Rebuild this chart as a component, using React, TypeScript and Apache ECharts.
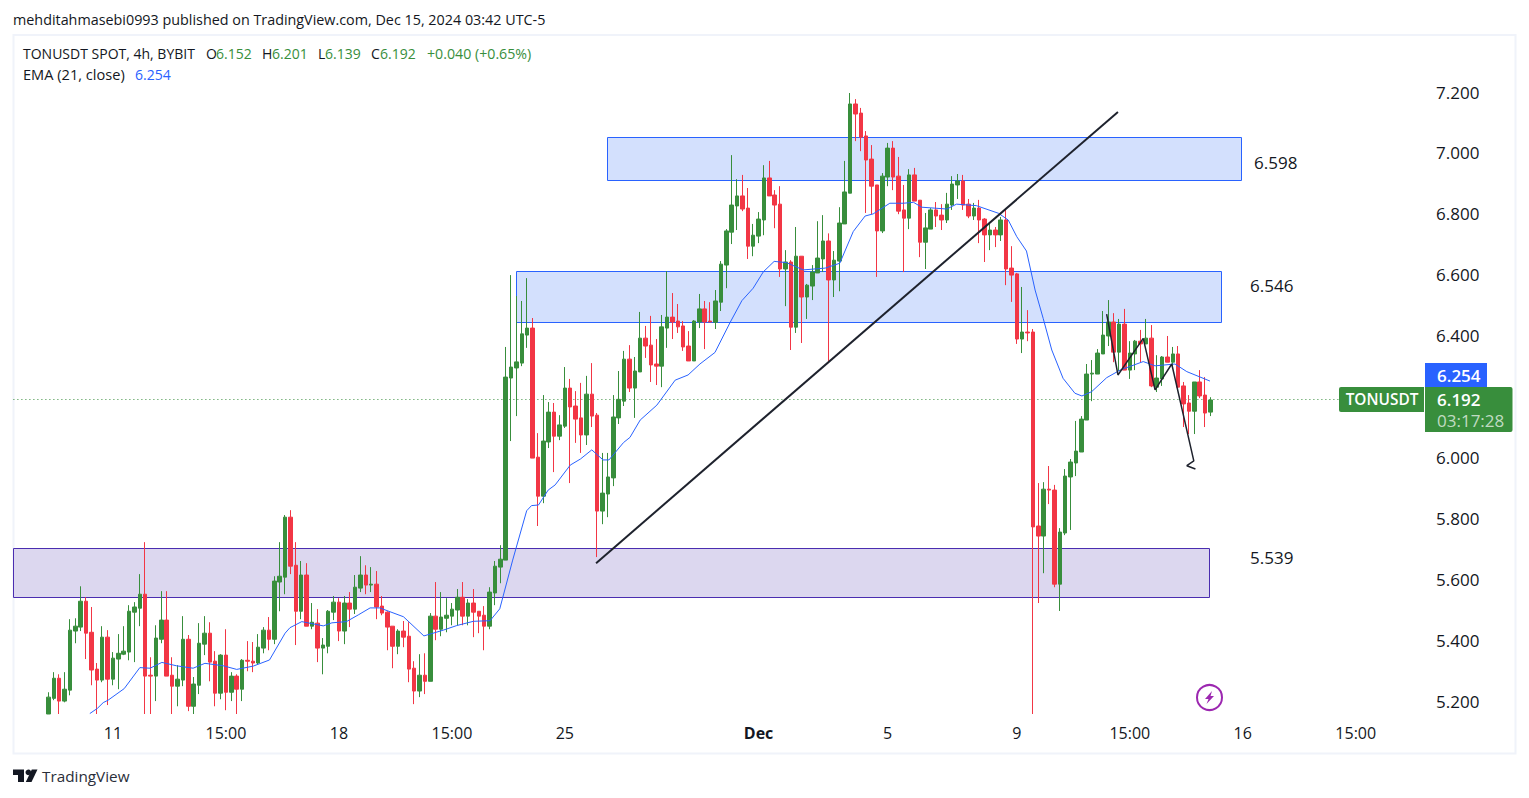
import React, { useEffect, useRef } from "react";
import * as echarts from "echarts";

// Candles, 4h, as [open, close, low, high].
const candlesNovEarly = [
  [5.14,5.216,5.10,5.232],[5.212,5.278,5.206,5.298],[5.278,5.203,5.12,5.291],[5.203,5.242,5.199,5.298],[5.239,5.436,5.222,5.472],
  [5.433,5.449,5.393,5.475],[5.446,5.531,5.433,5.58],[5.531,5.426,5.341,5.544],[5.429,5.305,5.255,5.512],[5.308,5.272,5.12,5.328],
  [5.272,5.413,5.265,5.449],[5.413,5.275,5.19,5.436],[5.275,5.344,5.255,5.364],[5.341,5.36,5.242,5.423],[5.357,5.367,5.354,5.449],
  [5.364,5.498,5.337,5.518],[5.495,5.512,5.331,5.528],[5.508,5.554,5.449,5.62],[5.554,5.285,5.12,5.725],[5.288,5.285,5.12,5.347],
  [5.285,5.41,5.203,5.452],[5.406,5.469,5.393,5.564],[5.469,5.285,5.285,5.564],[5.288,5.252,5.12,5.347],[5.252,5.275,5.186,5.321],
  [5.272,5.406,5.252,5.482],[5.406,5.186,5.17,5.42],[5.186,5.259,5.12,5.282],[5.255,5.393,5.226,5.459],[5.39,5.426,5.354,5.482],
  [5.426,5.331,5.268,5.462],[5.334,5.229,5.186,5.367],[5.229,5.354,5.209,5.357],[5.354,5.232,5.173,5.439],[5.232,5.285,5.203,5.298],
  [5.285,5.242,5.12,5.291],[5.242,5.337,5.203,5.341],[5.337,5.334,5.301,5.4],[5.334,5.328,5.298,5.397],[5.328,5.38,5.324,5.423],
  [5.377,5.436,5.36,5.446],[5.436,5.406,5.37,5.479],[5.406,5.597,5.39,5.613],[5.594,5.613,5.498,5.725],[5.61,5.807,5.554,5.814],
];
const candlesNovMid = [
  [5.807,5.646,5.62,5.83],[5.649,5.498,5.387,5.725],[5.498,5.617,5.472,5.663],[5.617,5.449,5.449,5.656],[5.449,5.462,5.439,5.525],
  [5.459,5.377,5.331,5.505],[5.377,5.387,5.291,5.41],[5.383,5.498,5.36,5.502],[5.495,5.528,5.469,5.548],[5.528,5.433,5.4,5.541],
  [5.433,5.525,5.39,5.548],[5.525,5.505,5.446,5.561],[5.505,5.577,5.489,5.617],[5.574,5.617,5.561,5.679],[5.617,5.584,5.554,5.649],
  [5.584,5.587,5.561,5.643],[5.587,5.512,5.472,5.63],[5.515,5.492,5.485,5.548],[5.495,5.446,5.37,5.498],[5.449,5.383,5.311,5.449],
  [5.383,5.433,5.357,5.439],[5.433,5.413,5.38,5.466],[5.416,5.308,5.265,5.462],[5.311,5.236,5.193,5.334],[5.236,5.288,5.216,5.357],
  [5.288,5.268,5.226,5.36],[5.268,5.482,5.268,5.492],[5.482,5.439,5.403,5.594],[5.439,5.479,5.416,5.561],[5.475,5.485,5.429,5.541],
  [5.482,5.505,5.452,5.525],[5.502,5.544,5.452,5.571],[5.544,5.482,5.452,5.594],[5.482,5.525,5.452,5.538],[5.525,5.495,5.413,5.571],
  [5.498,5.482,5.426,5.498],[5.485,5.449,5.37,5.515],[5.449,5.561,5.439,5.577],[5.558,5.646,5.518,5.663],[5.643,5.669,5.59,5.715],
];
const candlesNovLate = [
  [5.666,6.267,5.666,6.366],[6.264,6.3,6.057,6.602],[6.297,6.317,6.139,6.533],[6.313,6.409,6.303,6.517],[6.405,6.428,6.363,6.592],
  [6.428,6.001,6.001,6.461],[6.004,5.876,5.778,6.083],[5.876,6.057,5.853,6.208],[6.054,6.152,6.034,6.185],[6.152,6.073,5.955,6.182],
  [6.073,6.11,6.06,6.142],[6.106,6.231,6.1,6.3],[6.231,6.169,5.919,6.261],[6.172,6.129,6.051,6.221],[6.133,6.077,6.018,6.248],
  [6.077,6.211,6.044,6.271],[6.211,6.139,6.103,6.313],[6.142,5.827,5.676,6.149],[5.827,5.886,5.784,6.018],[5.883,5.939,5.807,6.018],
  [5.936,6.136,5.909,6.208],[6.133,6.194,6.113,6.287],[6.188,6.326,6.172,6.353],[6.326,6.231,6.218,6.372],[6.231,6.287,6.133,6.333],
  [6.284,6.395,6.284,6.481],[6.395,6.369,6.33,6.435],[6.372,6.307,6.251,6.468],[6.31,6.303,6.241,6.392],[6.303,6.432,6.234,6.471],
  [6.428,6.464,6.363,6.615],[6.464,6.448,6.392,6.543],[6.451,6.432,6.412,6.507],[6.435,6.366,6.353,6.451],[6.369,6.32,6.32,6.418],
  [6.32,6.451,6.32,6.454],[6.448,6.491,6.428,6.54],[6.491,6.448,6.359,6.517],[6.451,6.448,6.448,6.513],[6.447,6.517,6.425,6.553],
];
const candlesDecEarly = [
  [6.513,6.638,6.484,6.648],[6.635,6.747,6.559,6.753],[6.743,6.832,6.704,6.996],[6.829,6.862,6.75,6.917],[6.862,6.819,6.812,6.931],
  [6.822,6.697,6.655,6.888],[6.697,6.733,6.664,6.77],[6.73,6.786,6.707,6.809],[6.783,6.921,6.733,6.963],[6.921,6.862,6.862,6.977],
  [6.865,6.832,6.756,6.881],[6.835,6.622,6.596,6.894],[6.622,6.645,6.5,6.684],[6.645,6.431,6.356,6.651],[6.431,6.664,6.412,6.76],
  [6.664,6.53,6.379,6.664],[6.53,6.569,6.458,6.573],[6.566,6.612,6.52,6.635],[6.609,6.658,6.609,6.779],[6.655,6.714,6.612,6.799],
  [6.714,6.586,6.32,6.739],[6.586,6.651,6.53,6.681],[6.648,6.773,6.549,6.825],[6.77,6.875,6.77,6.977],[6.871,7.164,6.871,7.2],
  [7.164,7.131,7.042,7.18],[7.134,7.055,7.009,7.151],[7.059,6.98,6.806,7.075],[6.983,6.894,6.802,7.029],[6.898,6.747,6.596,6.898],
  [6.747,6.927,6.74,6.937],[6.924,7.019,6.894,7.036],[7.019,6.924,6.881,7.042],[6.927,6.812,6.802,6.99],[6.816,6.789,6.612,6.898],
  [6.789,6.931,6.753,6.95],[6.931,6.845,6.845,6.954],[6.848,6.71,6.661,6.848],[6.71,6.757,6.622,6.806],[6.753,6.816,6.753,6.822],
];
const candlesDecMid = [
  [6.816,6.796,6.76,6.842],[6.799,6.783,6.75,6.835],[6.783,6.835,6.773,6.872],[6.832,6.901,6.816,6.927],[6.898,6.911,6.852,6.934],
  [6.911,6.832,6.816,6.931],[6.835,6.796,6.789,6.852],[6.796,6.822,6.783,6.839],[6.822,6.783,6.707,6.849],[6.786,6.734,6.645,6.789],
  [6.734,6.75,6.684,6.776],[6.75,6.734,6.694,6.76],[6.734,6.783,6.714,6.793],[6.783,6.622,6.569,6.819],[6.625,6.602,6.514,6.697],
  [6.606,6.392,6.376,6.609],[6.392,6.415,6.346,6.563],[6.415,6.412,6.385,6.487],[6.415,5.775,5.15,6.425],[5.778,5.745,5.525,5.919],
  [5.745,5.899,5.623,5.922],[5.899,5.896,5.85,5.975],[5.896,5.587,5.577,5.913],[5.587,5.758,5.499,5.771],[5.755,5.942,5.748,5.965],
];
const candlesDecLate = [
  [5.939,5.988,5.765,5.998],[5.985,6.024,5.942,6.123],[6.021,6.129,6.021,6.139],[6.126,6.277,6.126,6.31],[6.277,6.28,6.188,6.323],
  [6.277,6.346,6.277,6.359],[6.343,6.405,6.343,6.484],[6.402,6.448,6.369,6.52],[6.448,6.349,6.316,6.477],[6.349,6.441,6.287,6.458],
  [6.441,6.29,6.29,6.491],[6.29,6.346,6.261,6.385],[6.343,6.385,6.29,6.389],[6.385,6.376,6.316,6.422],[6.376,6.395,6.376,6.458],
  [6.395,6.238,6.234,6.438],[6.234,6.264,6.218,6.339],[6.261,6.333,6.238,6.336],[6.333,6.316,6.316,6.402],[6.316,6.343,6.303,6.366],
  [6.343,6.234,6.234,6.369],[6.238,6.179,6.103,6.251],[6.182,6.155,6.08,6.208],[6.155,6.251,6.08,6.251],[6.251,6.205,6.198,6.29],
  [6.208,6.149,6.103,6.267],[6.152,6.192,6.139,6.201],
];

// EMA(21) at its bends: [candle index, price].
const emaPoints = [
  [7.7,5.162],[9.1,5.179],[10.2,5.198],[11.1,5.206],[14.1,5.244],[17,5.313],[18.9,5.311],[21.1,5.33],[23.8,5.319],[26.9,5.311],
  [29.1,5.327],[32.5,5.319],[35,5.307],[38.1,5.318],[41.1,5.338],[44,5.426],[44.9,5.444],[47.1,5.464],[51.1,5.45],[52.7,5.46],
  [55.4,5.464],[57.6,5.486],[59.8,5.509],[61.6,5.509],[66,5.48],[69.8,5.417],[73.4,5.436],[75.9,5.451],[79,5.465],[82.1,5.467],
  [83.9,5.506],[86.3,5.666],[88.9,5.828],[89.8,5.845],[91.1,5.847],[92.9,5.896],[94.2,5.913],[97,5.978],[98.9,5.998],[101,6.028],
  [103.1,5.995],[104.2,5.995],[106.9,6.052],[108.1,6.069],[110,6.126],[113.1,6.175],[116.5,6.257],[118.9,6.274],[121.1,6.31],[123.9,6.348],
  [126.7,6.446],[128.9,6.518],[131,6.559],[132.9,6.613],[134.9,6.647],[137.2,6.643],[140.3,6.619],[144.4,6.625],[147.1,6.641],[149.6,6.745],
  [151.8,6.796],[153.3,6.803],[156.4,6.838],[158.9,6.838],[160.8,6.841],[162.3,6.825],[167,6.819],[168.8,6.835],[172.5,6.83],[176.6,6.805],
  [178.4,6.783],[180,6.728],[181.8,6.681],[183.4,6.553],[184.9,6.46],[186.5,6.356],[188.6,6.263],[190.8,6.214],[192.1,6.205],[193.9,6.219],
  [196.7,6.265],[199.2,6.29],[203.5,6.318],[205.7,6.304],[209.4,6.31],[211.6,6.285],[215.9,6.254],
];

// Drawings, in candle index and price.
const trendLine = [[101.8,5.656],[198.8,7.138]];
const arrowPath = [[196.7,6.474],[198.8,6.274],[203.5,6.394],[205.7,6.225],[208.8,6.31],[212.9,5.992],[211.6,5.976],[213.2,5.965]];
const zones = [ // [from, to, top price, bottom price, style]
  [-6.6,215.7,5.705,5.544,0],
  [103.8,221.7,7.055,6.913,1],
  [86.9,218,6.614,6.447,1],
];
const zoneFills = ["#DCD7EF","#D3E0FD"];
const zoneStrokes = ["#4A2DB0","#2962FF"];
const priceLineLevel = 6.1934;

const yTicks = [5.2,5.4,5.6,5.8,6.0,6.2,6.4,6.6,6.8,7.0,7.2];
const tickIndex = [12,33,54,75,96,132,156,180,201,222,243];
const tickLabels = ["11","15:00","18","15:00","25","Dec","5","9","15:00","16","15:00"];

const LEAD = 6;
const SLOTS = 262;
const Y_MIN = 5.1606;
const Y_MAX = 7.3905;
const FONT = '"Open Sans", sans-serif';
const INK = "#131722";
const GREEN = "#388E3C";
const RED = "#F23645";
const BLUE = "#2962FF";

function txt(text: string, x: number, y: number, fill: string, size = 14, weight = 400, align = "left", opacity = 1) {
  return {
    type: "text", z: 50, silent: true,
    style: { text, x, y, fill, opacity, font: `${weight} ${size}px ${FONT}`, textAlign: align, textVerticalAlign: "middle", align, verticalAlign: "middle" },
  };
}

export default function App() {
  const ref = useRef<HTMLDivElement>(null);
  useEffect(() => {
    const chart = echarts.init(ref.current!, null, { renderer: "svg" });
    const candles = [...candlesNovEarly, ...candlesNovMid, ...candlesNovLate, ...candlesDecEarly, ...candlesDecMid, ...candlesDecLate];
    const categories = Array.from({ length: SLOTS }, (_, k) => String(k));
    const labelAt: Record<number, string> = {};
    tickIndex.forEach((t, k) => { labelAt[t + LEAD] = tickLabels[k]; });

    chart.setOption({
      animation: false,
      backgroundColor: "#ffffff",
      grid: { left: 13.4, top: 35, width: 1409.6, height: 679, containLabel: false },
      xAxis: [
        {
          type: "category", data: categories, boundaryGap: true,
          axisLine: { show: false }, axisTick: { show: false }, splitLine: { show: false },
          axisLabel: {
            interval: (i: number) => labelAt[i] !== undefined,
            formatter: (_: string, i: number) => (labelAt[i] === "Dec" ? "{b|Dec}" : labelAt[i] ?? ""),
            color: INK, fontFamily: FONT, fontSize: 16, margin: 11, hideOverlap: false,
            rich: { b: { fontFamily: FONT, fontSize: 16, fontWeight: 700, color: INK } },
          },
        },
        { type: "value", show: false, min: -LEAD - 0.5, max: SLOTS - LEAD - 0.5, splitLine: { show: false } },
      ],
      yAxis: {
        type: "value", position: "right", min: Y_MIN, max: Y_MAX,
        axisLine: { show: false }, axisTick: { show: false }, splitLine: { show: false },
        axisLabel: {
          customValues: yTicks, formatter: (v: number) => `{p|${v.toFixed(3)}}`,
          color: INK, fontFamily: FONT, fontSize: 17, margin: 13, align: "left",
          rich: { p: { color: INK, fontFamily: FONT, fontSize: 17, padding: [0, 0, 2, 0] } },
        },
      },
      series: [
        {
          type: "custom", xAxisIndex: 1, yAxisIndex: 0, z: 1, silent: true, clip: false,
          data: zones, encode: { x: [0, 1], y: [2, 3] },
          renderItem: (_: any, api: any) => {
            const a = api.coord([api.value(0), api.value(2)]);
            const b = api.coord([api.value(1), api.value(3)]);
            const s = api.value(4);
            return {
              type: "rect",
              shape: { x: Math.round(a[0]) + 0.5, y: Math.round(a[1]) + 0.5, width: Math.round(b[0] - a[0]), height: Math.round(b[1] - a[1]) },
              style: { fill: zoneFills[s], stroke: zoneStrokes[s], lineWidth: 1 },
            };
          },
        },
        {
          type: "line", xAxisIndex: 1, yAxisIndex: 0, z: 1, silent: true, symbol: "none",
          data: [[-LEAD - 0.5, priceLineLevel], [240, priceLineLevel]],
          lineStyle: { color: GREEN, width: 1, type: [1, 3] },
        },
        {
          type: "candlestick", xAxisIndex: 0, yAxisIndex: 0, z: 2, silent: true, barWidth: 4,
          data: candles.map((c, i) => [i + LEAD, Math.max(c[0], Y_MIN), Math.max(c[1], Y_MIN), Math.max(c[2], Y_MIN), c[3]]),
          encode: { x: 0, y: [1, 2, 3, 4] },
          itemStyle: { color: GREEN, color0: RED, borderColor: GREEN, borderColor0: RED, borderWidth: 1 },
        },
        {
          type: "line", xAxisIndex: 1, yAxisIndex: 0, z: 3, silent: true, symbol: "none", clip: true,
          data: emaPoints, lineStyle: { color: BLUE, width: 1 },
        },
        {
          type: "line", xAxisIndex: 1, yAxisIndex: 0, z: 4, silent: true, symbol: "none",
          data: trendLine, lineStyle: { color: "#1E222D", width: 2 },
        },
        {
          type: "line", xAxisIndex: 1, yAxisIndex: 0, z: 4, silent: true, symbol: "none",
          data: arrowPath, lineStyle: { color: "#1E222D", width: 1.5 },
        },
      ],
      graphic: [
        { type: "rect", z: 0, silent: true, shape: { x: 13.5, y: 35, width: 1502, height: 718.5 }, style: { fill: "none", stroke: "#F0F3FA", lineWidth: 2 } },
        txt("mehditahmasebi0993 published on TradingView.com, Dec 15, 2024 03:42 UTC-5", 13, 19, INK, 14.35),
        txt("TONUSDT SPOT, 4h, BYBIT", 23, 53, INK, 14),
        txt("O", 206, 53, INK, 14), txt("6.152", 216, 53, GREEN, 14),
        txt("H", 262, 53, INK, 14), txt("6.201", 272, 53, GREEN, 14),
        txt("L", 318, 53, INK, 14), txt("6.139", 325, 53, GREEN, 14),
        txt("C", 371, 53, INK, 14), txt("6.192", 380, 53, GREEN, 14),
        txt("+0.040 (+0.65%)", 427, 53, GREEN, 14.2),
        txt("EMA (21, close)", 23, 74, INK, 14.6),
        txt("6.254", 135, 74, BLUE, 14),
        txt("6.598", 1254, 162.5, INK, 17, 500),
        txt("6.546", 1250, 285.5, INK, 17, 500),
        txt("5.539", 1250, 557.5, INK, 17, 500),
        { type: "rect", z: 45, silent: true, shape: { x: 1425, y: 363, width: 62, height: 24 }, style: { fill: BLUE } },
        { type: "rect", z: 45, silent: true, shape: { x: 1425, y: 387, width: 87.5, height: 45, r: [0, 2, 2, 0] }, style: { fill: GREEN } },
        { type: "rect", z: 45, silent: true, shape: { x: 1339, y: 387, width: 85, height: 25, r: [2, 0, 0, 2] }, style: { fill: GREEN } },
        txt("TONUSDT", 1382, 399, "#ffffff", 15.4, 600, "center"),
        txt("6.254", 1437, 375, "#ffffff", 17, 600),
        txt("6.192", 1437, 399, "#ffffff", 17, 600),
        txt("03:17:28", 1437, 420, "#ffffff", 17, 400, "left", 0.7),
        { type: "circle", z: 45, silent: true, shape: { cx: 1209.5, cy: 697.5, r: 12.5 }, style: { fill: "#ffffff", stroke: "#9C27B0", lineWidth: 2 } },
        { type: "polygon", z: 46, silent: true, shape: { points: [[1212, 691], [1205, 699], [1208.5, 699], [1206.5, 704], [1214, 696], [1210.5, 696]] }, style: { fill: "#9C27B0" } },
        { type: "polygon", z: 46, silent: true, shape: { points: [[13, 769.5], [24, 769.5], [24, 782], [18, 782], [18, 775], [13, 775]] }, style: { fill: INK } },
        { type: "circle", z: 46, silent: true, shape: { cx: 28.3, cy: 772.3, r: 2.8 }, style: { fill: INK } },
        { type: "polygon", z: 46, silent: true, shape: { points: [[31.8, 769.5], [37.5, 769.5], [31.5, 782], [25.8, 782]] }, style: { fill: INK } },
        txt("TradingView", 42, 776, "#2A2E39", 15.3),
      ],
    });
    return () => chart.dispose();
  }, []);
  return <div ref={ref} style={{ position: "fixed", left: 0, top: 0, width: 1529, height: 798 }} />;
}
